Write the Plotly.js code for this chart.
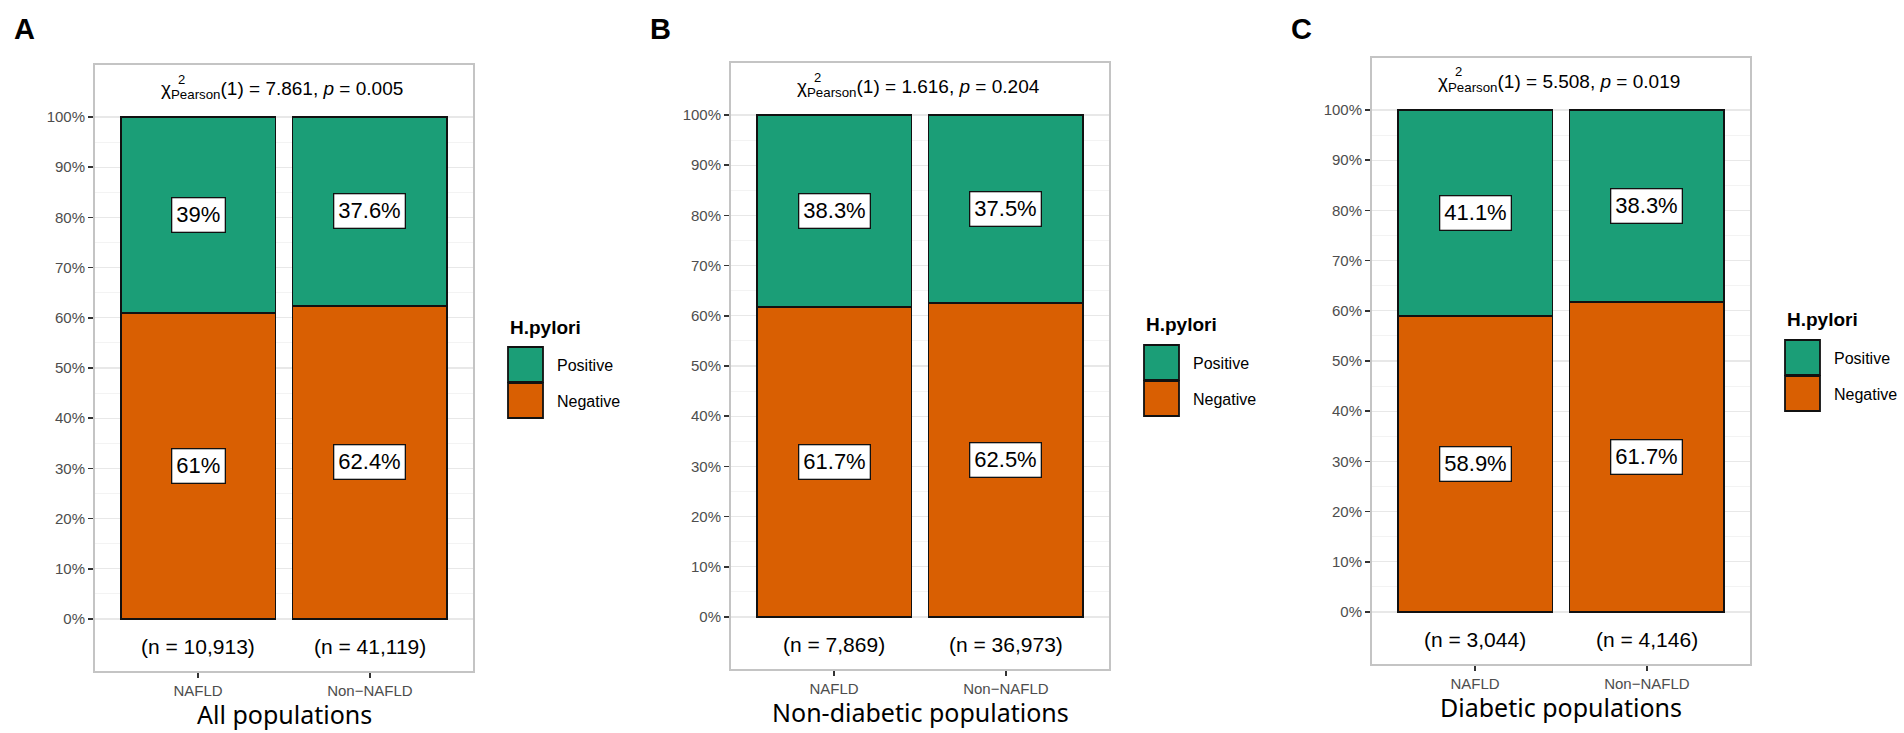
<!DOCTYPE html>
<html>
<head>
<meta charset="utf-8">
<script src="https://cdn.plot.ly/plotly-3.0.1.min.js"></script>
<style>
  html, body { margin: 0; padding: 0; background: #ffffff; }
  #chart { width: 1904px; height: 733px; }
</style>
</head>
<body>
<div id="chart"></div>
<script>
// values
var groups = ['NAFLD', 'Non\u2212NAFLD'];
var panelLetters = ['A', 'B', 'C'];
var panelTitles = ['All populations', 'Non-diabetic populations', 'Diabetic populations'];
var seriesNames = ['Positive', 'Negative'];
var positivePct = [[39, 37.6], [38.3, 37.5], [41.1, 38.3]];
var negativePct = [[61, 62.4], [61.7, 62.5], [58.9, 61.7]];
var sampleN = [['10,913', '41,119'], ['7,869', '36,973'], ['3,044', '4,146']];
var chiValue = ['7.861', '1.616', '5.508'];
var pValue = ['0.005', '0.204', '0.019'];

var seriesColors = {Positive: '#1b9e77', Negative: '#d95f02'};

var W = 1904, H = 733;
// plot frames in pixels
var frames = [
    {l: 95,   r: 473,  t: 65, b: 671},
    {l: 731,  r: 1109, t: 63, b: 669},
    {l: 1372, r: 1750, t: 58, b: 664}
];

function px(x) { return x / W; }
function py(y) { return 1 - y / H; }

var majorTicks = [], majorText = [];
for (var v = 0; v <= 100; v += 10) {
    majorTicks.push(v);
    majorText.push(v + '%');
}
var minorTicks = [];
for (var v = 5; v < 100; v += 10) minorTicks.push(v);

var traces = [];
var annotations = [];
var shapes = [];
var layout = {
    width: W,
    height: H,
    margin: {l: 0, r: 0, t: 0, b: 0},
    paper_bgcolor: '#ffffff',
    plot_bgcolor: '#ffffff',
    barmode: 'stack',
    bargap: 0.1,
    showlegend: false,
    font: {family: 'Liberation Sans, Arial, sans-serif', color: '#000000'}
};

for (var i = 0; i < 3; i++) {
    var f = frames[i];
    var sx = i == 0 ? '' : String(i + 1);
    var xa = 'x' + sx, ya = 'y' + sx;

    // bars: negative at the bottom, positive stacked on top
    traces.push({
        type: 'bar', x: groups, y: negativePct[i], name: 'Negative',
        xaxis: xa, yaxis: ya, width: 0.9,
        marker: {color: seriesColors.Negative, line: {color: '#111111', width: 1.8}},
        hoverinfo: 'skip'
    });
    traces.push({
        type: 'bar', x: groups, y: positivePct[i], name: 'Positive',
        xaxis: xa, yaxis: ya, width: 0.9,
        marker: {color: seriesColors.Positive, line: {color: '#111111', width: 1.8}},
        hoverinfo: 'skip'
    });

    layout['xaxis' + sx] = {
        domain: [px(f.l), px(f.r)],
        anchor: ya,
        type: 'category',
        range: [-0.6, 1.6],
        showgrid: false,
        zeroline: false,
        showline: true, mirror: true, linecolor: '#c4c4c4', linewidth: 2,
        ticks: 'outside', ticklen: 5, tickwidth: 1.5, tickcolor: '#333333',
        tickfont: {size: 15, color: '#4d4d4d'},
        fixedrange: true
    };
    layout['yaxis' + sx] = {
        domain: [py(f.b), py(f.t)],
        anchor: xa,
        range: [-10.36, 110.36],
        tickmode: 'array', tickvals: majorTicks, ticktext: majorText,
        showgrid: true, gridcolor: '#e8e8e8', gridwidth: 1.3,
        minor: {tickmode: 'array', tickvals: minorTicks, showgrid: true, gridcolor: '#f3f3f3', gridwidth: 1, ticks: ''},
        zeroline: false,
        showline: true, mirror: true, linecolor: '#c4c4c4', linewidth: 2,
        ticks: 'outside', ticklen: 5, tickwidth: 1.5, tickcolor: '#333333',
        tickfont: {size: 15, color: '#4d4d4d'},
        fixedrange: true
    };

    // percentage labels inside the segments, and n below the bars
    for (var j = 0; j < groups.length; j++) {
        annotations.push({
            xref: xa, yref: ya, x: groups[j], y: negativePct[i][j] / 2,
            text: negativePct[i][j] + '%', showarrow: false,
            font: {size: 22, color: '#000000'},
            bgcolor: '#ffffff', bordercolor: '#111111', borderwidth: 1.3, borderpad: 4
        });
        annotations.push({
            xref: xa, yref: ya, x: groups[j], y: negativePct[i][j] + positivePct[i][j] / 2,
            text: positivePct[i][j] + '%', showarrow: false,
            font: {size: 22, color: '#000000'},
            bgcolor: '#ffffff', bordercolor: '#111111', borderwidth: 1.3, borderpad: 4
        });
        annotations.push({
            xref: xa, yref: ya, x: groups[j], y: -5.4,
            text: '(n = ' + sampleN[i][j] + ')', showarrow: false,
            font: {size: 21, color: '#000000'}
        });
    }

    // chi-square subtitle
    annotations.push({
        xref: 'paper', yref: 'paper', x: px(f.l + 64), y: py(f.t + 25),
        xanchor: 'left', yanchor: 'middle', showarrow: false,
        text: '\u03c7<sub>Pearson</sub>(1) = ' + chiValue[i] + ', <i>p</i> = ' + pValue[i],
        font: {size: 19, color: '#000000'}
    });
    annotations.push({
        xref: 'paper', yref: 'paper', x: px(f.l + 81), y: py(f.t + 14),
        xanchor: 'left', yanchor: 'middle', showarrow: false,
        text: '2', font: {size: 13, color: '#000000'}
    });

    // panel letter and panel title
    annotations.push({
        xref: 'paper', yref: 'paper', x: px(f.l - 71), y: py(29),
        xanchor: 'center', yanchor: 'middle', showarrow: false,
        text: '<b>' + panelLetters[i] + '</b>',
        font: {size: 29, color: '#000000'}
    });
    annotations.push({
        xref: 'paper', yref: 'paper', x: px((f.l + f.r) / 2), y: py(f.b + 43),
        xanchor: 'center', yanchor: 'middle', showarrow: false,
        text: panelTitles[i],
        font: {family: 'Noto Sans, sans-serif', size: 25, color: '#000000'}
    });

    // legend (keys drawn as boxes, like the ggplot guide)
    var lx = f.r + 35, ly = f.t + 262;
    annotations.push({
        xref: 'paper', yref: 'paper', x: px(lx), y: py(ly),
        xanchor: 'left', yanchor: 'middle', showarrow: false,
        text: '<b>H.pylori</b>', font: {size: 19, color: '#000000'}
    });
    for (var k = 0; k < seriesNames.length; k++) {
        var keyTop = ly + 20 + k * 36;
        shapes.push({
            type: 'rect', xref: 'paper', yref: 'paper',
            x0: px(lx), x1: px(lx + 35), y0: py(keyTop), y1: py(keyTop + 35),
            fillcolor: seriesColors[seriesNames[k]],
            line: {color: '#111111', width: 1.8}
        });
        annotations.push({
            xref: 'paper', yref: 'paper', x: px(lx + 47), y: py(keyTop + 18),
            xanchor: 'left', yanchor: 'middle', showarrow: false,
            text: seriesNames[k], font: {size: 16, color: '#000000'}
        });
    }
}

layout.annotations = annotations;
layout.shapes = shapes;

Plotly.newPlot('chart', traces, layout, {staticPlot: true, displayModeBar: false});
</script>
</body>
</html>
